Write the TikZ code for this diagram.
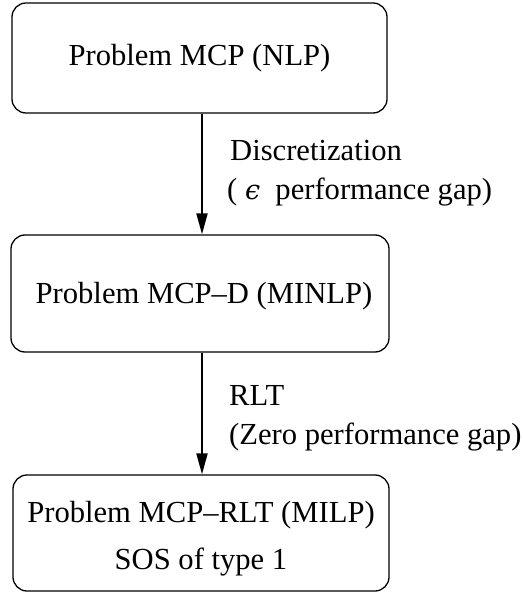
\documentclass[tikz,border=0pt]{standalone}
\usepackage{fontspec}
\setmainfont{Liberation Serif}
\newfontfamily\greekfont{DejaVu Serif}
\usetikzlibrary{arrows.meta}
\begin{document}
\begin{tikzpicture}[x=1pt,y=-1pt,
  every node/.style={font=\fontsize{30.6}{39}\selectfont},
  stage/.style={draw, line width=1.3pt, rounded corners=14pt, align=center, inner sep=0pt},
  flow/.style={line width=2pt, -{Triangle[length=21pt,width=11pt]}},
  note/.style={align=left, anchor=west, inner sep=0pt}
]
\useasboundingbox (0,0) rectangle (522,593);

% the three problem formulations
\node[stage, minimum width=375pt, minimum height=110pt] (nlp) at (199.5,58)
  {Problem MCP (NLP)};
\node[stage, minimum width=378pt, minimum height=117pt] (minlp) at (200,293.5)
  {\rule{0pt}{26pt}\hspace{8pt}Problem MCP--D (MINLP)};
\node[stage, minimum width=376pt, minimum height=116pt] (milp) at (201,533)
  {\rule{0pt}{33pt}Problem MCP--RLT (MILP)\\[8pt]SOS of type 1};

% transformations between them
\draw[flow] ([xshift=2.5pt]nlp.south) -- ([xshift=2pt]minlp.north);
\draw[flow] ([xshift=2pt]minlp.south) -- ([xshift=1pt]milp.north);

% transformation labels
\node[note] (disc) at (227,173.5)
  {\hspace{3pt}Discretization\\( {\greekfont\itshape\fontsize{27}{39}\selectfont ϵ} \ performance gap)};
\node[note] (rlt) at (229,418)
  {RLT\\(Zero performance gap)};
\end{tikzpicture}
\end{document}
